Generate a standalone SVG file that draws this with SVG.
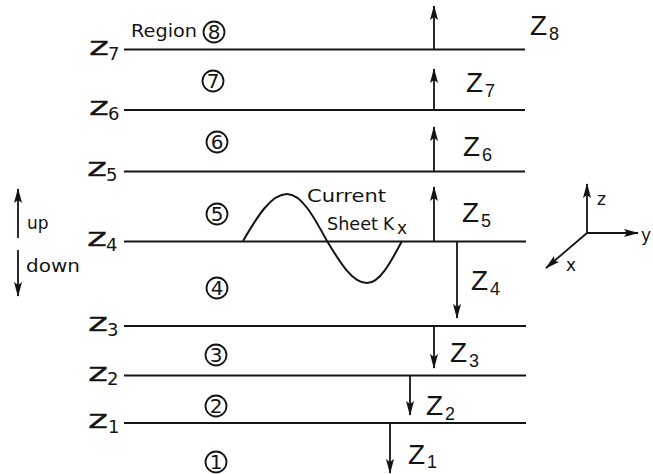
<svg xmlns="http://www.w3.org/2000/svg" width="653" height="474" viewBox="0 0 653 474">
<style>
.bl{stroke:#141414;stroke-width:2;fill:none}
.ar{stroke:#141414;stroke-width:1.8;fill:none}
.zl{font-family:"DejaVu Sans","Liberation Sans",sans-serif;font-size:25px;fill:#141414;stroke:#141414;stroke-width:0.3}
.zs{font-family:"DejaVu Sans","Liberation Sans",sans-serif;font-size:18px;fill:#141414}
.ZL{font-family:"Liberation Sans","DejaVu Sans",sans-serif;font-size:28px;fill:#141414}
.ZS{font-family:"Liberation Sans","DejaVu Sans",sans-serif;font-size:18px;fill:#141414}
.ci{stroke:#141414;stroke-width:1.8;fill:none}
.cn{font-family:"DejaVu Sans","Liberation Sans",sans-serif;font-size:20px;fill:#141414;text-anchor:middle}
.tx{font-family:"DejaVu Sans","Liberation Sans",sans-serif;font-size:17px;fill:#141414}
</style>
<defs>
<marker id="ah" markerUnits="userSpaceOnUse" markerWidth="15" markerHeight="8" refX="14" refY="4" orient="auto" viewBox="0 0 15 8">
<path d="M0,0 L15,4 L0,8 L3,4 z" fill="#141414"/>
</marker>
</defs>
<rect width="653" height="474" fill="#ffffff"/>

<g id="boundary-z7"><line class="bl" x1="124" y1="49.5" x2="525" y2="49.5"/><text class="zl" x="89" y="55" textLength="20" lengthAdjust="spacingAndGlyphs">z</text><text class="zs" x="108" y="60">7</text></g>
<g id="boundary-z6"><line class="bl" x1="124" y1="110" x2="525" y2="110"/><text class="zl" x="89" y="115" textLength="20" lengthAdjust="spacingAndGlyphs">z</text><text class="zs" x="108" y="120">6</text></g>
<g id="boundary-z5"><line class="bl" x1="124" y1="171.5" x2="525" y2="171.5"/><text class="zl" x="87" y="176" textLength="20" lengthAdjust="spacingAndGlyphs">z</text><text class="zs" x="106" y="181">5</text></g>
<g id="boundary-z4"><line class="bl" x1="124" y1="241.5" x2="526" y2="241.5"/><text class="zl" x="87" y="246" textLength="20" lengthAdjust="spacingAndGlyphs">z</text><text class="zs" x="106" y="251">4</text></g>
<g id="boundary-z3"><line class="bl" x1="124" y1="326" x2="526" y2="326"/><text class="zl" x="88" y="331" textLength="20" lengthAdjust="spacingAndGlyphs">z</text><text class="zs" x="107" y="336">3</text></g>
<g id="boundary-z2"><line class="bl" x1="124" y1="375.5" x2="526" y2="375.5"/><text class="zl" x="88" y="381" textLength="20" lengthAdjust="spacingAndGlyphs">z</text><text class="zs" x="107" y="385">2</text></g>
<g id="boundary-z1"><line class="bl" x1="124" y1="423" x2="526" y2="423"/><text class="zl" x="88" y="428" textLength="20" lengthAdjust="spacingAndGlyphs">z</text><text class="zs" x="108" y="433">1</text></g>

<g id="region-8"><text class="tx" x="131" y="37" textLength="66" lengthAdjust="spacingAndGlyphs">Region</text><circle class="ci" cx="214" cy="32" r="10.5"/><text class="cn" x="214" y="39">8</text></g>
<g id="region-7"><circle class="ci" cx="213" cy="81" r="10.5"/><text class="cn" x="213" y="88">7</text></g>
<g id="region-6"><circle class="ci" cx="217" cy="142" r="10.5"/><text class="cn" x="217" y="149">6</text></g>
<g id="region-5"><circle class="ci" cx="217" cy="214" r="10.5"/><text class="cn" x="217" y="221">5</text></g>
<g id="region-4"><circle class="ci" cx="217" cy="288" r="10.5"/><text class="cn" x="217" y="295">4</text></g>
<g id="region-3"><circle class="ci" cx="216" cy="355" r="10.5"/><text class="cn" x="216" y="362">3</text></g>
<g id="region-2"><circle class="ci" cx="216" cy="406" r="10.5"/><text class="cn" x="216" y="413">2</text></g>
<g id="region-1"><circle class="ci" cx="216" cy="462" r="10.5"/><text class="cn" x="216" y="469">1</text></g>

<g id="current-sheet">
<path class="bl" d="M243,241 C257,217 271,194 287,194 C301.5,194 314,217 327,241 C340,262.5 352.5,283 367,283 C379.7,283 390.6,262.5 402,241"/>
<text class="tx" x="307" y="202" textLength="79" lengthAdjust="spacingAndGlyphs">Current</text>
<text class="tx" x="327" y="230" textLength="51" lengthAdjust="spacingAndGlyphs">Sheet</text>
<text class="tx" x="383" y="230" font-size="18">K</text><text class="tx" x="397" y="234" font-size="18">x</text>
</g>

<g id="connectors">
<line class="ar" x1="434" y1="49" x2="434" y2="6" marker-end="url(#ah)"/>
<line class="ar" x1="434" y1="110" x2="434" y2="69" marker-end="url(#ah)"/>
<line class="ar" x1="434" y1="171" x2="434" y2="127" marker-end="url(#ah)"/>
<line class="ar" x1="434" y1="241" x2="434" y2="187" marker-end="url(#ah)"/>
<line class="ar" x1="457" y1="242" x2="457" y2="318" marker-end="url(#ah)"/>
<line class="ar" x1="434" y1="326" x2="434" y2="368" marker-end="url(#ah)"/>
<line class="ar" x1="410" y1="376" x2="410" y2="415" marker-end="url(#ah)"/>
<line class="ar" x1="390" y1="423" x2="390" y2="473" marker-end="url(#ah)"/>
<line class="ar" x1="18" y1="238" x2="18" y2="189" marker-end="url(#ah)"/>
<line class="ar" x1="18" y1="250" x2="18" y2="296" marker-end="url(#ah)"/>
<line class="ar" x1="587" y1="233" x2="587" y2="184" marker-end="url(#ah)"/>
<line class="ar" x1="587" y1="233" x2="638" y2="233" marker-end="url(#ah)"/>
<line class="ar" x1="587" y1="233" x2="546" y2="268" marker-end="url(#ah)"/>
</g>

<g id="labels">
<text class="ZL" x="530" y="35">Z</text><text class="ZS" x="549" y="40">8</text>
<text class="ZL" x="466" y="92">Z</text><text class="ZS" x="485" y="97">7</text>
<text class="ZL" x="463" y="156">Z</text><text class="ZS" x="482" y="161">6</text>
<text class="ZL" x="462" y="222">Z</text><text class="ZS" x="481" y="227">5</text>
<text class="ZL" x="471" y="290">Z</text><text class="ZS" x="490" y="295">4</text>
<text class="ZL" x="450" y="362">Z</text><text class="ZS" x="469" y="367">3</text>
<text class="ZL" x="426" y="415">Z</text><text class="ZS" x="445" y="420">2</text>
<text class="ZL" x="408" y="464">Z</text><text class="ZS" x="427" y="468">1</text>
<text class="tx" x="27" y="229" font-size="18">up</text>
<text class="tx" x="26" y="272" font-size="18" textLength="54" lengthAdjust="spacingAndGlyphs">down</text>
<text class="tx" x="597" y="205" font-size="22">z</text>
<text class="tx" x="641" y="241" font-size="22">y</text>
<text class="tx" x="566" y="271" font-size="22">x</text>
</g>
</svg>
